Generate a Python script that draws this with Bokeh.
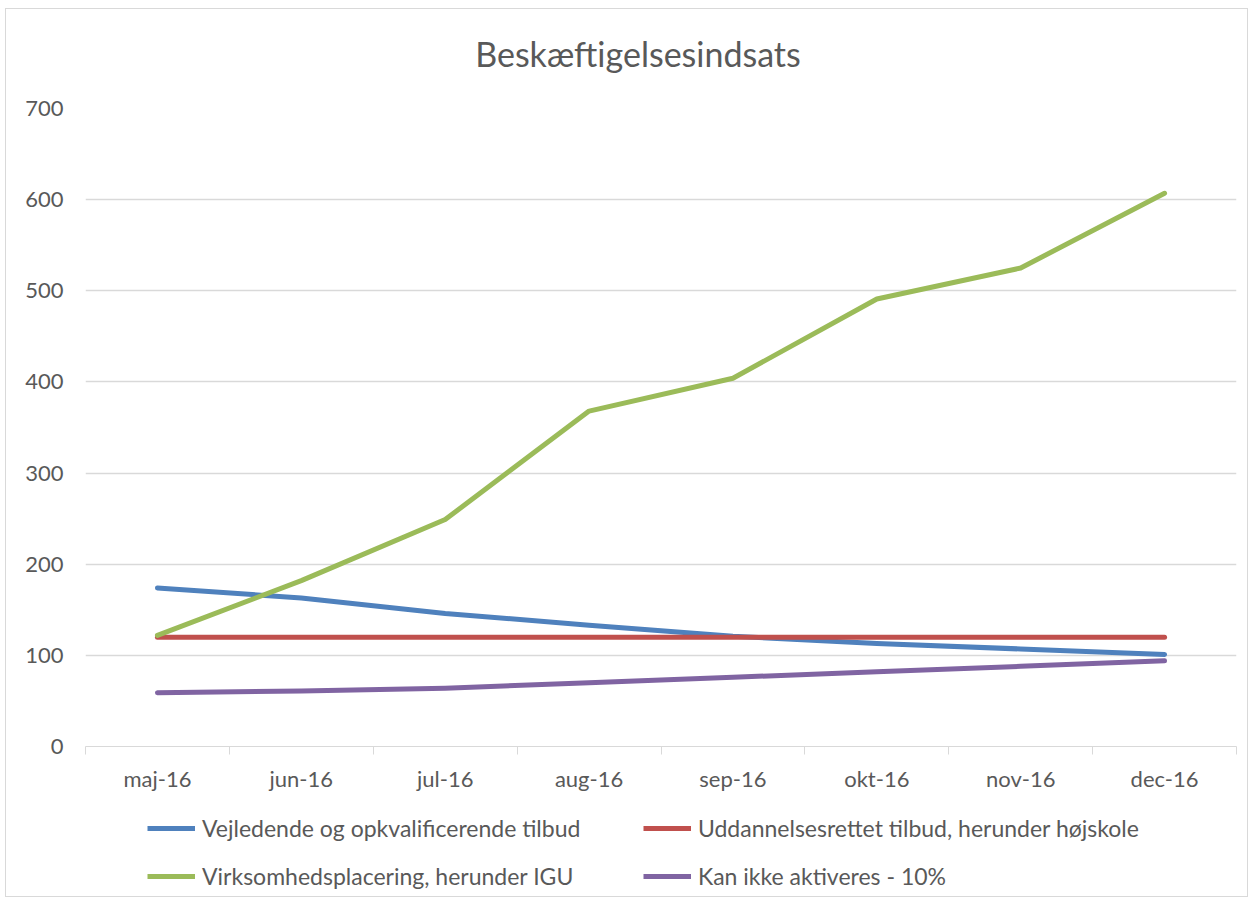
from bokeh.plotting import figure
from bokeh.models import Range1d, FixedTicker, Legend, LegendItem, Label
from bokeh.layouts import column
from bokeh.embed import file_html
from bokeh.resources import INLINE

months = ["maj-16", "jun-16", "jul-16", "aug-16", "sep-16", "okt-16", "nov-16", "dec-16"]
vejledende = [174, 163, 146, 133, 121, 113, 107, 101]
uddannelse = [120, 120, 120, 120, 120, 120, 120, 120]
virksomhed = [122, 182, 249, 368, 404, 491, 525, 607]
kan_ikke = [59, 61, 64, 70, 76, 82, 88, 94]
series_names = [
    "Vejledende og opkvalificerende tilbud",
    "Uddannelsesrettet tilbud, herunder højskole",
    "Virksomhedsplacering, herunder IGU",
    "Kan ikke aktiveres - 10%",
]
title_text = "Beskæftigelsesindsats"
colors = ["#4f81bd", "#c0504d", "#9bbb59", "#8064a2"]
y_ticks = [0, 100, 200, 300, 400, 500, 600, 700]

FONT = "Lato"
TXT = "#595959"
GRID = "#d9d9d9"
W = 1241

xs = list(range(len(months)))
all_series = [vejledende, uddannelse, virksomhed, kan_ikke]


def strip(height):
    f = figure(width=W, height=height, output_backend="svg", toolbar_location=None,
               x_range=Range1d(0, 1), y_range=Range1d(0, 1),
               x_axis_location=None, y_axis_location=None,
               min_border_left=0, min_border_right=0, min_border_top=0, min_border_bottom=0)
    f.outline_line_color = None
    f.grid.visible = False
    return f


# title strip
tt = strip(70)
tt.add_layout(Label(x=0.5, y=0.5, x_offset=-23, y_offset=-9, text=title_text,
                    text_align="center", text_baseline="middle",
                    text_font=FONT, text_font_size="34px", text_color=TXT))

# main chart
p = figure(width=W, height=721, output_backend="svg", toolbar_location=None,
           x_range=Range1d(-0.5, len(months) - 0.5), y_range=Range1d(0, 700),
           min_border_left=79, min_border_right=11, min_border_top=29,
           min_border_bottom=54)
p.outline_line_color = None

p.xaxis.ticker = FixedTicker(ticks=xs, minor_ticks=[i - 0.5 for i in range(len(months) + 1)])
p.xaxis.major_label_overrides = {i: m for i, m in enumerate(months)}
p.xaxis.major_tick_line_color = None
p.xaxis.major_tick_out = 0
p.xaxis.major_tick_in = 0
p.xaxis.minor_tick_line_color = GRID
p.xaxis.minor_tick_line_width = 1
p.xaxis.minor_tick_out = 8
p.xaxis.minor_tick_in = 0
p.xaxis.axis_line_color = GRID
p.xaxis.axis_line_width = 1
p.xaxis.major_label_standoff = 10
p.xaxis.major_label_text_font = FONT
p.xaxis.major_label_text_font_size = "22px"
p.xaxis.major_label_text_color = TXT

p.yaxis.ticker = FixedTicker(ticks=y_ticks)
p.yaxis.axis_line_color = None
p.yaxis.major_tick_line_color = None
p.yaxis.minor_tick_line_color = None
p.yaxis.major_tick_out = 0
p.yaxis.major_label_standoff = 22
p.yaxis.major_label_text_font = FONT
p.yaxis.major_label_text_font_size = "22px"
p.yaxis.major_label_text_color = TXT

p.xgrid.grid_line_color = None
p.ygrid.grid_line_color = GRID
p.ygrid.grid_line_width = 1.5

for data, c in zip(all_series, colors):
    p.line(xs, data, line_color=c, line_width=5, line_cap="round", line_join="round")

# legend strip (proxy lines kept outside the visible range)
lg = strip(96)
items = []
for name, c in zip(series_names, colors):
    r = lg.line(x=[5, 6], y=[5, 6], line_color=c, line_width=5)
    items.append(LegendItem(label=name, renderers=[r]))
order = [0, 2, 1, 3]
legend = Legend(items=[items[i] for i in order], nrows=2, location=(62, 6),
                label_text_font=FONT, label_text_font_size="23px", label_text_color=TXT,
                glyph_width=48, glyph_height=20, label_standoff=7, label_width=421,
                spacing=20, padding=0, margin=0,
                border_line_color=None, background_fill_alpha=0)
lg.add_layout(legend, "center")

layout = column(tt, p, lg, spacing=0)
layout.styles = {"margin-left": "5px", "margin-top": "8px", "border": "1px solid #d9d9d9"}

open("out.html", "w").write(file_html(layout, INLINE))
